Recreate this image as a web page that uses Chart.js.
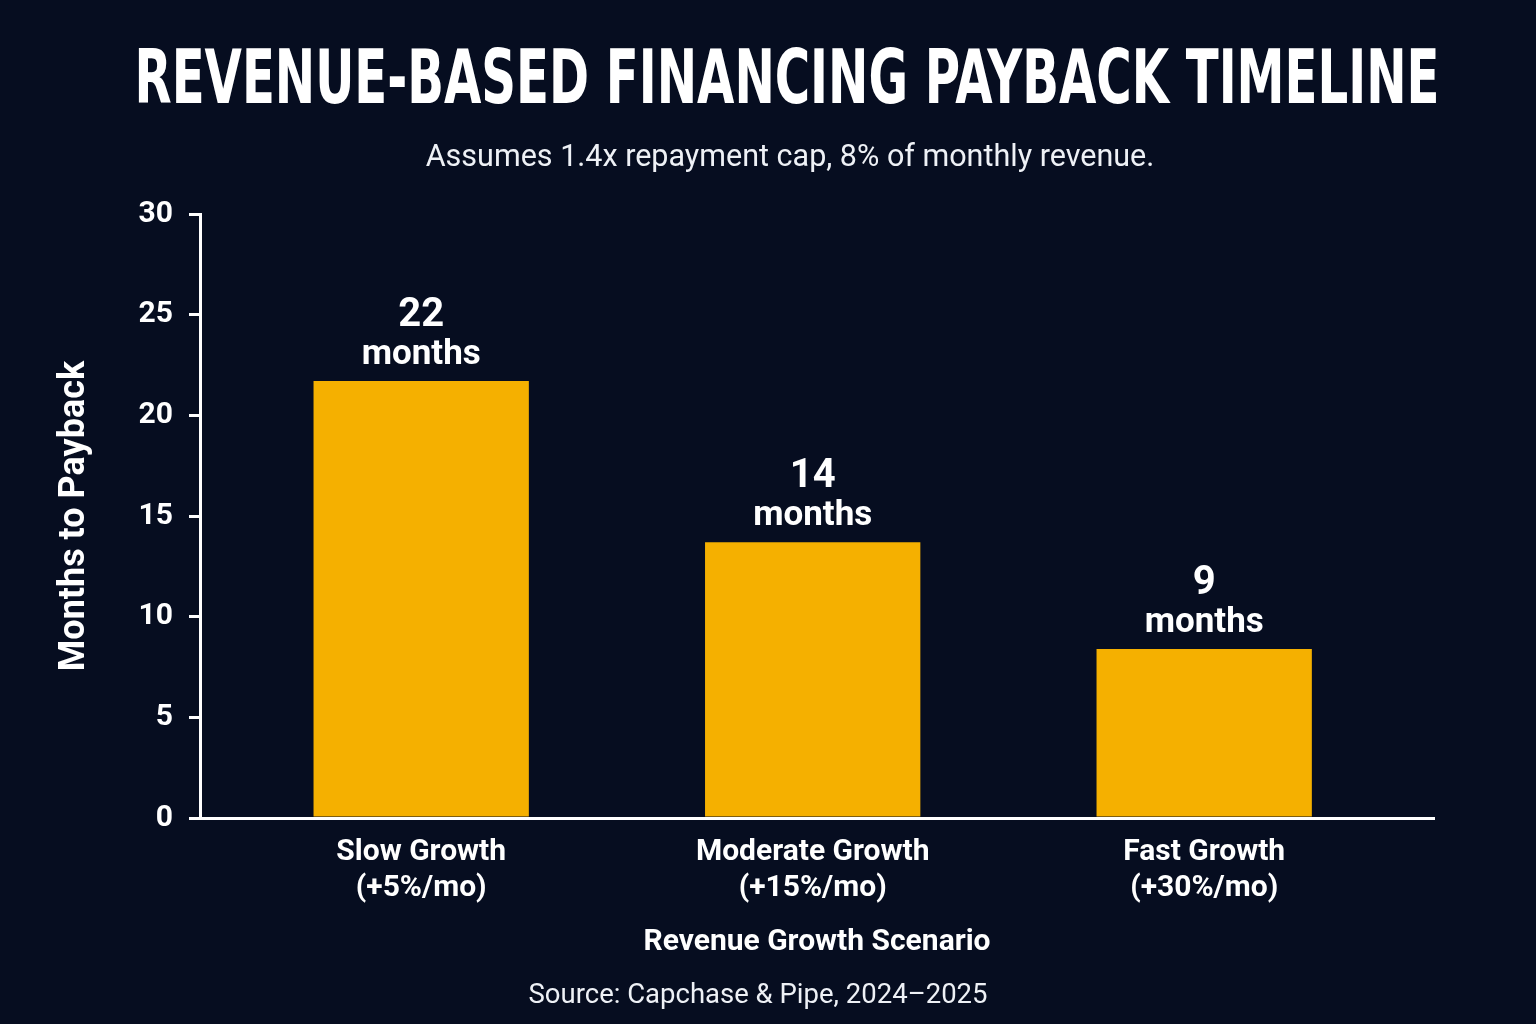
<!DOCTYPE html>
<html>
<head>
<meta charset="utf-8">
<title>Revenue-Based Financing Payback Timeline</title>
<script src="https://cdn.jsdelivr.net/npm/chart.js@4.4.1/dist/chart.umd.min.js"></script>
<style>
  html, body { margin: 0; padding: 0; background: #060d20; }
  #wrap { width: 1536px; height: 1024px; }
</style>
</head>
<body>
<div id="wrap"><canvas id="paybackChart" width="1536" height="1024"></canvas></div>
<script>
const TITLE = "REVENUE-BASED FINANCING PAYBACK TIMELINE";
const SUBTITLE = "Assumes 1.4x repayment cap, 8% of monthly revenue.";
const SOURCE = "Source: Capchase & Pipe, 2024\u20132025";

const scenarios = [
  ["Slow Growth", "(+5%/mo)"],
  ["Moderate Growth", "(+15%/mo)"],
  ["Fast Growth", "(+30%/mo)"],
];
const paybackMonths = [21.7, 13.7, 8.4];
const valueLabels = ["22", "14", "9"];
const unitLabel = "months";
const yTicks = [0, 5, 10, 15, 20, 25, 30];

const BG = "#060d20";
const BAR = "#f5b000";
const WHITE = "#ffffff";
const FONT = "Roboto, 'Noto Sans', sans-serif";

// background, headline, subtitle and source line
const frame = {
  id: "frame",
  beforeDraw(chart) {
    const ctx = chart.ctx;
    ctx.save();
    ctx.fillStyle = BG;
    ctx.fillRect(0, 0, chart.width, chart.height);
    ctx.restore();
  },
  afterDraw(chart) {
    const ctx = chart.ctx;
    ctx.save();
    ctx.fillStyle = WHITE;
    ctx.textAlign = "center";
    ctx.textBaseline = "alphabetic";

    // condensed headline: squeeze to the reference width
    ctx.font = "bold 75px 'DejaVu Sans Condensed', Roboto, sans-serif";
    const w = ctx.measureText(TITLE).width;
    ctx.translate(787, 103);
    ctx.scale(1305 / w, 1);
    ctx.fillText(TITLE, 0, 0);
    ctx.setTransform(1, 0, 0, 1, 0, 0);

    ctx.fillStyle = "#eef1f6";
    ctx.font = "30.5px " + FONT;
    ctx.fillText(SUBTITLE, 790, 166);

    ctx.font = "27.5px " + FONT;
    ctx.fillText(SOURCE, 758, 1003);
    ctx.restore();
  }
};

// "22 / months" labels above each bar
const barLabels = {
  id: "barLabels",
  afterDatasetsDraw(chart) {
    const ctx = chart.ctx;
    const meta = chart.getDatasetMeta(0);
    ctx.save();
    ctx.fillStyle = WHITE;
    ctx.textAlign = "center";
    ctx.textBaseline = "alphabetic";
    meta.data.forEach((bar, i) => {
      ctx.font = "bold 40px " + FONT;
      ctx.fillText(valueLabels[i], bar.x, bar.y - 55);
      ctx.font = "bold 35px " + FONT;
      ctx.fillText(unitLabel, bar.x, bar.y - 17);
    });
    ctx.restore();
  }
};

Chart.defaults.font.family = FONT;
Chart.defaults.color = WHITE;

new Chart(document.getElementById("paybackChart"), {
  type: "bar",
  data: {
    datasets: [{
      label: "Months to Payback",
      data: paybackMonths.map((v, i) => ({ x: i, y: v })),
      backgroundColor: BAR,
      borderWidth: 0,
      barPercentage: 0.55,
      categoryPercentage: 1,
    }]
  },
  options: {
    responsive: false,
    animation: false,
    layout: { padding: { top: 214, right: 102, bottom: 50, left: 0 } },
    plugins: {
      legend: { display: false },
      tooltip: { enabled: false },
    },
    scales: {
      x: {
        type: "linear",
        min: -0.565,
        max: 2.587,
        offset: false,
        afterBuildTicks(scale) {
          scale.ticks = scenarios.map((_, i) => ({ value: i }));
        },
        afterFit(scale) { scale.height = 156; },
        ticks: {
          color: WHITE,
          padding: 16,
          font: { size: 30, weight: "bold", lineHeight: 1.2 },
          maxRotation: 0,
          autoSkip: false,
          callback: (value) => scenarios[value],
        },
        grid: { display: false, drawTicks: false, offset: false },
        border: { display: true, color: WHITE, width: 3 },
        title: {
          display: true,
          text: "Revenue Growth Scenario",
          color: WHITE,
          font: { size: 30, weight: "bold", lineHeight: 1.2 },
          padding: { top: 0, bottom: 14 },
        },
      },
      y: {
        min: 0,
        max: 30,
        afterBuildTicks(scale) {
          scale.ticks = yTicks.map(v => ({ value: v }));
        },
        afterFit(scale) { scale.width = 200; },
        ticks: {
          color: WHITE,
          padding: 16,
          font: { size: 30, weight: "bold" },
        },
        grid: {
          display: true,
          drawOnChartArea: false,
          drawTicks: true,
          tickLength: 11,
          color: WHITE,
          lineWidth: 3,
        },
        border: { display: true, color: WHITE, width: 3 },
        title: {
          display: true,
          text: "Months to Payback",
          color: WHITE,
          font: { size: 36, weight: "bold", lineHeight: 1.2 },
          padding: { top: 53, bottom: 0 },
        },
      },
    },
  },
  plugins: [frame, barLabels],
});
</script>
</body>
</html>
